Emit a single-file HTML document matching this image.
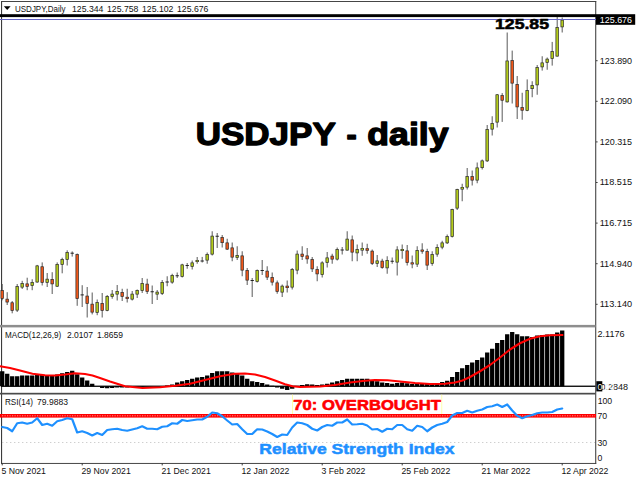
<!DOCTYPE html>
<html><head><meta charset="utf-8"><title>USDJPY - daily</title>
<style>
html,body{margin:0;padding:0;background:#fff;}
body{width:640px;height:480px;overflow:hidden;font-family:"Liberation Sans",sans-serif;}
svg{display:block;font-family:"Liberation Sans",sans-serif;}
</style></head><body>
<svg width="640" height="480" viewBox="0 0 640 480">
<rect x="0" y="0" width="640" height="480" fill="#fff"/>
<rect x="1" y="1" width="595.2" height="0.95" fill="#3c3c3c"/>
<rect x="1" y="1" width="1.1" height="462.9" fill="#3c3c3c"/>
<rect x="595.2" y="1" width="1.05" height="462.9" fill="#3c3c3c"/>
<rect x="1" y="462.95" width="595.2" height="0.95" fill="#3c3c3c"/>
<rect x="0" y="324.9" width="595.5" height="2.5" fill="#8e8e8e"/>
<rect x="0" y="392.8" width="595.5" height="1.7" fill="#4a4a4a"/>
<rect x="596" y="60.20" width="1.6" height="1" fill="#3c3c3c"/>
<rect x="596" y="100.80" width="1.6" height="1" fill="#3c3c3c"/>
<rect x="596" y="141.40" width="1.6" height="1" fill="#3c3c3c"/>
<rect x="596" y="182.00" width="1.6" height="1" fill="#3c3c3c"/>
<rect x="596" y="222.60" width="1.6" height="1" fill="#3c3c3c"/>
<rect x="596" y="263.20" width="1.6" height="1" fill="#3c3c3c"/>
<rect x="596" y="303.80" width="1.6" height="1" fill="#3c3c3c"/>
<rect x="1.70" y="463" width="1" height="2.4" fill="#3c3c3c"/>
<rect x="81.70" y="463" width="1" height="2.4" fill="#3c3c3c"/>
<rect x="161.70" y="463" width="1" height="2.4" fill="#3c3c3c"/>
<rect x="241.70" y="463" width="1" height="2.4" fill="#3c3c3c"/>
<rect x="321.70" y="463" width="1" height="2.4" fill="#3c3c3c"/>
<rect x="401.70" y="463" width="1" height="2.4" fill="#3c3c3c"/>
<rect x="481.70" y="463" width="1" height="2.4" fill="#3c3c3c"/>
<rect x="561.70" y="463" width="1" height="2.4" fill="#3c3c3c"/>
<rect x="1.70" y="284.00" width="0.95" height="16.30" fill="#505050"/>
<rect x="0.90" y="290.55" width="2.60" height="7.90" fill="#f0581a" stroke="#2a2a2a" stroke-width="0.7"/>
<rect x="6.70" y="292.20" width="0.95" height="12.80" fill="#505050"/>
<rect x="5.90" y="299.15" width="2.60" height="2.90" fill="#f0581a" stroke="#2a2a2a" stroke-width="0.7"/>
<rect x="11.70" y="301.00" width="0.95" height="12.30" fill="#505050"/>
<rect x="10.90" y="302.75" width="2.60" height="7.70" fill="#f0581a" stroke="#2a2a2a" stroke-width="0.7"/>
<rect x="16.70" y="284.00" width="0.95" height="28.00" fill="#505050"/>
<rect x="15.90" y="286.65" width="2.60" height="23.50" fill="#b4cc1c" stroke="#2a2a2a" stroke-width="0.7"/>
<rect x="21.70" y="280.80" width="0.95" height="8.20" fill="#505050"/>
<rect x="20.90" y="283.55" width="2.60" height="3.60" fill="#b4cc1c" stroke="#2a2a2a" stroke-width="0.7"/>
<rect x="26.70" y="277.70" width="0.95" height="12.50" fill="#505050"/>
<rect x="25.90" y="283.85" width="2.60" height="2.55" fill="#f0581a" stroke="#2a2a2a" stroke-width="0.7"/>
<rect x="31.70" y="279.25" width="0.95" height="10.95" fill="#505050"/>
<rect x="30.90" y="282.35" width="2.60" height="3.30" fill="#b4cc1c" stroke="#2a2a2a" stroke-width="0.7"/>
<rect x="36.70" y="264.90" width="0.95" height="17.80" fill="#505050"/>
<rect x="35.90" y="265.85" width="2.60" height="16.20" fill="#b4cc1c" stroke="#2a2a2a" stroke-width="0.7"/>
<rect x="41.70" y="262.40" width="0.95" height="23.10" fill="#505050"/>
<rect x="40.90" y="266.75" width="2.60" height="15.60" fill="#f0581a" stroke="#2a2a2a" stroke-width="0.7"/>
<rect x="46.70" y="273.00" width="0.95" height="14.00" fill="#505050"/>
<rect x="45.90" y="279.15" width="2.60" height="3.20" fill="#b4cc1c" stroke="#2a2a2a" stroke-width="0.7"/>
<rect x="51.70" y="272.20" width="0.95" height="21.80" fill="#505050"/>
<rect x="50.90" y="279.35" width="2.60" height="4.55" fill="#f0581a" stroke="#2a2a2a" stroke-width="0.7"/>
<rect x="56.70" y="262.40" width="0.95" height="24.60" fill="#505050"/>
<rect x="55.90" y="264.35" width="2.60" height="21.90" fill="#b4cc1c" stroke="#2a2a2a" stroke-width="0.7"/>
<rect x="61.70" y="257.70" width="0.95" height="15.60" fill="#505050"/>
<rect x="60.90" y="259.35" width="2.60" height="5.00" fill="#b4cc1c" stroke="#2a2a2a" stroke-width="0.7"/>
<rect x="66.70" y="250.30" width="0.95" height="15.20" fill="#505050"/>
<rect x="65.90" y="252.55" width="2.60" height="6.80" fill="#b4cc1c" stroke="#2a2a2a" stroke-width="0.7"/>
<rect x="71.70" y="251.40" width="0.95" height="5.20" fill="#505050"/>
<rect x="70.55" y="252.70" width="3.3" height="1" fill="#222"/>
<rect x="76.70" y="253.50" width="0.95" height="52.30" fill="#505050"/>
<rect x="75.90" y="254.60" width="2.60" height="44.05" fill="#f0581a" stroke="#2a2a2a" stroke-width="0.7"/>
<rect x="81.70" y="285.20" width="0.95" height="21.80" fill="#505050"/>
<rect x="80.55" y="294.40" width="3.3" height="1" fill="#222"/>
<rect x="86.70" y="287.00" width="0.95" height="30.50" fill="#505050"/>
<rect x="85.90" y="296.05" width="2.60" height="7.40" fill="#f0581a" stroke="#2a2a2a" stroke-width="0.7"/>
<rect x="91.70" y="292.50" width="0.95" height="21.90" fill="#505050"/>
<rect x="90.90" y="304.15" width="2.60" height="8.00" fill="#f0581a" stroke="#2a2a2a" stroke-width="0.7"/>
<rect x="96.70" y="299.50" width="0.95" height="15.70" fill="#505050"/>
<rect x="95.90" y="302.55" width="2.60" height="9.90" fill="#b4cc1c" stroke="#2a2a2a" stroke-width="0.7"/>
<rect x="101.70" y="293.00" width="0.95" height="24.50" fill="#505050"/>
<rect x="100.90" y="303.35" width="2.60" height="7.05" fill="#f0581a" stroke="#2a2a2a" stroke-width="0.7"/>
<rect x="106.70" y="295.00" width="0.95" height="16.25" fill="#505050"/>
<rect x="105.90" y="296.35" width="2.60" height="14.05" fill="#b4cc1c" stroke="#2a2a2a" stroke-width="0.7"/>
<rect x="111.70" y="290.00" width="0.95" height="8.75" fill="#505050"/>
<rect x="110.90" y="294.10" width="2.60" height="2.30" fill="#b4cc1c" stroke="#2a2a2a" stroke-width="0.7"/>
<rect x="116.70" y="285.00" width="0.95" height="15.50" fill="#505050"/>
<rect x="115.90" y="291.35" width="2.60" height="2.80" fill="#b4cc1c" stroke="#2a2a2a" stroke-width="0.7"/>
<rect x="121.70" y="288.75" width="0.95" height="12.25" fill="#505050"/>
<rect x="120.90" y="292.35" width="2.60" height="4.05" fill="#f0581a" stroke="#2a2a2a" stroke-width="0.7"/>
<rect x="126.70" y="288.75" width="0.95" height="13.75" fill="#505050"/>
<rect x="125.55" y="296.88" width="3.3" height="2.00" fill="#2a2a2a"/>
<rect x="126.35" y="297.38" width="1.70" height="1.00" fill="#f0581a"/>
<rect x="131.70" y="291.00" width="0.95" height="9.50" fill="#505050"/>
<rect x="130.90" y="294.10" width="2.60" height="5.05" fill="#b4cc1c" stroke="#2a2a2a" stroke-width="0.7"/>
<rect x="136.70" y="289.50" width="0.95" height="8.50" fill="#505050"/>
<rect x="135.90" y="290.35" width="2.60" height="3.80" fill="#b4cc1c" stroke="#2a2a2a" stroke-width="0.7"/>
<rect x="141.70" y="278.00" width="0.95" height="15.00" fill="#505050"/>
<rect x="140.90" y="283.35" width="2.60" height="7.30" fill="#b4cc1c" stroke="#2a2a2a" stroke-width="0.7"/>
<rect x="146.70" y="278.75" width="0.95" height="15.25" fill="#505050"/>
<rect x="145.90" y="284.10" width="2.60" height="7.30" fill="#f0581a" stroke="#2a2a2a" stroke-width="0.7"/>
<rect x="151.70" y="285.50" width="0.95" height="18.50" fill="#505050"/>
<rect x="150.55" y="291.25" width="3.3" height="1" fill="#222"/>
<rect x="156.70" y="290.00" width="0.95" height="10.00" fill="#505050"/>
<rect x="155.90" y="292.10" width="2.60" height="2.05" fill="#b4cc1c" stroke="#2a2a2a" stroke-width="0.7"/>
<rect x="161.70" y="280.00" width="0.95" height="15.00" fill="#505050"/>
<rect x="160.90" y="282.35" width="2.60" height="11.05" fill="#b4cc1c" stroke="#2a2a2a" stroke-width="0.7"/>
<rect x="166.70" y="276.25" width="0.95" height="10.00" fill="#505050"/>
<rect x="165.55" y="281.50" width="3.3" height="1" fill="#222"/>
<rect x="171.70" y="273.75" width="0.95" height="10.00" fill="#505050"/>
<rect x="170.90" y="275.35" width="2.60" height="6.80" fill="#b4cc1c" stroke="#2a2a2a" stroke-width="0.7"/>
<rect x="176.70" y="272.50" width="0.95" height="5.50" fill="#505050"/>
<rect x="175.55" y="275.25" width="3.3" height="1" fill="#222"/>
<rect x="181.70" y="263.75" width="0.95" height="13.75" fill="#505050"/>
<rect x="180.90" y="264.85" width="2.60" height="11.55" fill="#b4cc1c" stroke="#2a2a2a" stroke-width="0.7"/>
<rect x="186.70" y="263.00" width="0.95" height="5.75" fill="#505050"/>
<rect x="185.55" y="265.00" width="3.3" height="1" fill="#222"/>
<rect x="191.70" y="260.50" width="0.95" height="9.00" fill="#505050"/>
<rect x="190.90" y="262.85" width="2.60" height="3.55" fill="#b4cc1c" stroke="#2a2a2a" stroke-width="0.7"/>
<rect x="196.70" y="257.00" width="0.95" height="6.75" fill="#505050"/>
<rect x="195.55" y="260.00" width="3.3" height="2.00" fill="#2a2a2a"/>
<rect x="196.35" y="260.50" width="1.70" height="1.00" fill="#b4cc1c"/>
<rect x="201.70" y="256.90" width="0.95" height="5.60" fill="#505050"/>
<rect x="200.55" y="260.50" width="3.3" height="1" fill="#222"/>
<rect x="206.70" y="252.50" width="0.95" height="11.25" fill="#505050"/>
<rect x="205.90" y="254.60" width="2.60" height="5.55" fill="#b4cc1c" stroke="#2a2a2a" stroke-width="0.7"/>
<rect x="211.70" y="231.25" width="0.95" height="24.25" fill="#505050"/>
<rect x="210.90" y="236.10" width="2.60" height="18.05" fill="#b4cc1c" stroke="#2a2a2a" stroke-width="0.7"/>
<rect x="216.70" y="233.00" width="0.95" height="15.00" fill="#505050"/>
<rect x="215.55" y="235.75" width="3.3" height="1" fill="#222"/>
<rect x="221.70" y="235.00" width="0.95" height="12.50" fill="#505050"/>
<rect x="220.90" y="237.35" width="2.60" height="5.30" fill="#f0581a" stroke="#2a2a2a" stroke-width="0.7"/>
<rect x="226.70" y="238.75" width="0.95" height="11.25" fill="#505050"/>
<rect x="225.90" y="242.85" width="2.60" height="6.30" fill="#f0581a" stroke="#2a2a2a" stroke-width="0.7"/>
<rect x="231.70" y="242.50" width="0.95" height="18.75" fill="#505050"/>
<rect x="230.90" y="247.85" width="2.60" height="9.30" fill="#f0581a" stroke="#2a2a2a" stroke-width="0.7"/>
<rect x="236.70" y="246.25" width="0.95" height="13.75" fill="#505050"/>
<rect x="235.90" y="255.35" width="2.60" height="2.30" fill="#b4cc1c" stroke="#2a2a2a" stroke-width="0.7"/>
<rect x="241.70" y="251.25" width="0.95" height="25.00" fill="#505050"/>
<rect x="240.90" y="255.85" width="2.60" height="14.30" fill="#f0581a" stroke="#2a2a2a" stroke-width="0.7"/>
<rect x="246.70" y="268.00" width="0.95" height="17.00" fill="#505050"/>
<rect x="245.90" y="270.35" width="2.60" height="9.80" fill="#f0581a" stroke="#2a2a2a" stroke-width="0.7"/>
<rect x="251.70" y="278.00" width="0.95" height="19.00" fill="#505050"/>
<rect x="250.55" y="280.00" width="3.3" height="1" fill="#222"/>
<rect x="256.70" y="269.50" width="0.95" height="13.00" fill="#505050"/>
<rect x="255.90" y="270.35" width="2.60" height="11.05" fill="#b4cc1c" stroke="#2a2a2a" stroke-width="0.7"/>
<rect x="261.70" y="260.00" width="0.95" height="15.00" fill="#505050"/>
<rect x="260.55" y="270.00" width="3.3" height="1" fill="#222"/>
<rect x="266.70" y="266.25" width="0.95" height="13.75" fill="#505050"/>
<rect x="265.90" y="271.10" width="2.60" height="6.05" fill="#f0581a" stroke="#2a2a2a" stroke-width="0.7"/>
<rect x="271.70" y="272.50" width="0.95" height="13.00" fill="#505050"/>
<rect x="270.90" y="277.35" width="2.60" height="4.80" fill="#f0581a" stroke="#2a2a2a" stroke-width="0.7"/>
<rect x="276.70" y="280.50" width="0.95" height="13.25" fill="#505050"/>
<rect x="275.90" y="282.85" width="2.60" height="8.55" fill="#f0581a" stroke="#2a2a2a" stroke-width="0.7"/>
<rect x="281.70" y="284.50" width="0.95" height="12.50" fill="#505050"/>
<rect x="280.90" y="286.10" width="2.60" height="6.05" fill="#b4cc1c" stroke="#2a2a2a" stroke-width="0.7"/>
<rect x="286.70" y="280.50" width="0.95" height="12.00" fill="#505050"/>
<rect x="285.55" y="285.75" width="3.3" height="2.25" fill="#2a2a2a"/>
<rect x="286.35" y="286.25" width="1.70" height="1.25" fill="#f0581a"/>
<rect x="291.70" y="268.00" width="0.95" height="21.50" fill="#505050"/>
<rect x="290.90" y="269.60" width="2.60" height="17.55" fill="#b4cc1c" stroke="#2a2a2a" stroke-width="0.7"/>
<rect x="296.70" y="250.50" width="0.95" height="23.75" fill="#505050"/>
<rect x="295.90" y="254.10" width="2.60" height="16.05" fill="#b4cc1c" stroke="#2a2a2a" stroke-width="0.7"/>
<rect x="301.70" y="246.25" width="0.95" height="13.75" fill="#505050"/>
<rect x="300.90" y="254.10" width="2.60" height="2.30" fill="#f0581a" stroke="#2a2a2a" stroke-width="0.7"/>
<rect x="306.70" y="248.00" width="0.95" height="15.75" fill="#505050"/>
<rect x="305.90" y="255.85" width="2.60" height="3.05" fill="#f0581a" stroke="#2a2a2a" stroke-width="0.7"/>
<rect x="311.70" y="257.00" width="0.95" height="15.00" fill="#505050"/>
<rect x="310.90" y="259.60" width="2.60" height="9.30" fill="#f0581a" stroke="#2a2a2a" stroke-width="0.7"/>
<rect x="316.70" y="266.25" width="0.95" height="15.00" fill="#505050"/>
<rect x="315.90" y="269.60" width="2.60" height="4.30" fill="#f0581a" stroke="#2a2a2a" stroke-width="0.7"/>
<rect x="321.70" y="261.25" width="0.95" height="16.25" fill="#505050"/>
<rect x="320.90" y="262.85" width="2.60" height="11.80" fill="#b4cc1c" stroke="#2a2a2a" stroke-width="0.7"/>
<rect x="326.70" y="252.00" width="0.95" height="15.50" fill="#505050"/>
<rect x="325.90" y="257.85" width="2.60" height="4.80" fill="#b4cc1c" stroke="#2a2a2a" stroke-width="0.7"/>
<rect x="331.70" y="253.75" width="0.95" height="10.00" fill="#505050"/>
<rect x="330.90" y="256.10" width="2.60" height="3.05" fill="#f0581a" stroke="#2a2a2a" stroke-width="0.7"/>
<rect x="336.70" y="247.50" width="0.95" height="13.00" fill="#505050"/>
<rect x="335.90" y="249.60" width="2.60" height="9.55" fill="#b4cc1c" stroke="#2a2a2a" stroke-width="0.7"/>
<rect x="341.70" y="247.00" width="0.95" height="7.50" fill="#505050"/>
<rect x="340.55" y="249.50" width="3.3" height="1" fill="#222"/>
<rect x="346.70" y="231.25" width="0.95" height="19.25" fill="#505050"/>
<rect x="345.90" y="239.10" width="2.60" height="11.05" fill="#b4cc1c" stroke="#2a2a2a" stroke-width="0.7"/>
<rect x="351.70" y="235.50" width="0.95" height="25.75" fill="#505050"/>
<rect x="350.90" y="239.85" width="2.60" height="12.30" fill="#f0581a" stroke="#2a2a2a" stroke-width="0.7"/>
<rect x="356.70" y="244.50" width="0.95" height="16.75" fill="#505050"/>
<rect x="355.90" y="249.60" width="2.60" height="3.30" fill="#b4cc1c" stroke="#2a2a2a" stroke-width="0.7"/>
<rect x="361.70" y="242.50" width="0.95" height="13.25" fill="#505050"/>
<rect x="360.55" y="248.00" width="3.3" height="2.50" fill="#2a2a2a"/>
<rect x="361.35" y="248.50" width="1.70" height="1.50" fill="#b4cc1c"/>
<rect x="366.70" y="243.75" width="0.95" height="10.00" fill="#505050"/>
<rect x="365.55" y="248.25" width="3.3" height="2.50" fill="#2a2a2a"/>
<rect x="366.35" y="248.75" width="1.70" height="1.50" fill="#f0581a"/>
<rect x="371.70" y="249.50" width="0.95" height="15.50" fill="#505050"/>
<rect x="370.90" y="251.10" width="2.60" height="12.30" fill="#f0581a" stroke="#2a2a2a" stroke-width="0.7"/>
<rect x="376.70" y="255.00" width="0.95" height="12.00" fill="#505050"/>
<rect x="375.90" y="260.85" width="2.60" height="2.55" fill="#b4cc1c" stroke="#2a2a2a" stroke-width="0.7"/>
<rect x="381.70" y="258.75" width="0.95" height="10.00" fill="#505050"/>
<rect x="380.90" y="261.10" width="2.60" height="6.55" fill="#f0581a" stroke="#2a2a2a" stroke-width="0.7"/>
<rect x="386.70" y="256.25" width="0.95" height="17.50" fill="#505050"/>
<rect x="385.90" y="260.35" width="2.60" height="7.55" fill="#b4cc1c" stroke="#2a2a2a" stroke-width="0.7"/>
<rect x="391.70" y="257.50" width="0.95" height="6.25" fill="#505050"/>
<rect x="390.55" y="260.75" width="3.3" height="1" fill="#222"/>
<rect x="396.70" y="246.25" width="0.95" height="29.25" fill="#505050"/>
<rect x="395.90" y="249.85" width="2.60" height="12.30" fill="#b4cc1c" stroke="#2a2a2a" stroke-width="0.7"/>
<rect x="401.70" y="244.50" width="0.95" height="14.25" fill="#505050"/>
<rect x="400.55" y="249.00" width="3.3" height="2.00" fill="#2a2a2a"/>
<rect x="401.35" y="249.50" width="1.70" height="1.00" fill="#b4cc1c"/>
<rect x="406.70" y="245.00" width="0.95" height="20.50" fill="#505050"/>
<rect x="405.90" y="250.85" width="2.60" height="11.80" fill="#f0581a" stroke="#2a2a2a" stroke-width="0.7"/>
<rect x="411.70" y="255.50" width="0.95" height="12.75" fill="#505050"/>
<rect x="410.55" y="262.38" width="3.3" height="2.00" fill="#2a2a2a"/>
<rect x="411.35" y="262.88" width="1.70" height="1.00" fill="#f0581a"/>
<rect x="416.70" y="246.25" width="0.95" height="20.75" fill="#505050"/>
<rect x="415.90" y="250.35" width="2.60" height="13.80" fill="#b4cc1c" stroke="#2a2a2a" stroke-width="0.7"/>
<rect x="421.70" y="243.25" width="0.95" height="10.50" fill="#505050"/>
<rect x="420.55" y="249.62" width="3.3" height="2.00" fill="#2a2a2a"/>
<rect x="421.35" y="250.12" width="1.70" height="1.00" fill="#f0581a"/>
<rect x="426.70" y="248.75" width="0.95" height="21.25" fill="#505050"/>
<rect x="425.90" y="251.60" width="2.60" height="13.55" fill="#f0581a" stroke="#2a2a2a" stroke-width="0.7"/>
<rect x="431.70" y="251.25" width="0.95" height="14.50" fill="#505050"/>
<rect x="430.90" y="254.60" width="2.60" height="8.80" fill="#b4cc1c" stroke="#2a2a2a" stroke-width="0.7"/>
<rect x="436.70" y="244.25" width="0.95" height="12.50" fill="#505050"/>
<rect x="435.90" y="247.35" width="2.60" height="6.80" fill="#b4cc1c" stroke="#2a2a2a" stroke-width="0.7"/>
<rect x="441.70" y="240.75" width="0.95" height="8.50" fill="#505050"/>
<rect x="440.90" y="242.85" width="2.60" height="4.30" fill="#b4cc1c" stroke="#2a2a2a" stroke-width="0.7"/>
<rect x="446.70" y="234.50" width="0.95" height="9.50" fill="#505050"/>
<rect x="445.90" y="236.60" width="2.60" height="6.30" fill="#b4cc1c" stroke="#2a2a2a" stroke-width="0.7"/>
<rect x="451.70" y="208.75" width="0.95" height="28.75" fill="#505050"/>
<rect x="450.90" y="209.60" width="2.60" height="26.80" fill="#b4cc1c" stroke="#2a2a2a" stroke-width="0.7"/>
<rect x="456.70" y="188.75" width="0.95" height="21.25" fill="#505050"/>
<rect x="455.90" y="189.60" width="2.60" height="18.55" fill="#b4cc1c" stroke="#2a2a2a" stroke-width="0.7"/>
<rect x="461.70" y="183.75" width="0.95" height="17.50" fill="#505050"/>
<rect x="460.55" y="187.00" width="3.3" height="2.50" fill="#2a2a2a"/>
<rect x="461.35" y="187.50" width="1.70" height="1.50" fill="#b4cc1c"/>
<rect x="466.70" y="168.00" width="0.95" height="21.50" fill="#505050"/>
<rect x="465.90" y="176.60" width="2.60" height="10.55" fill="#b4cc1c" stroke="#2a2a2a" stroke-width="0.7"/>
<rect x="471.70" y="170.50" width="0.95" height="15.00" fill="#505050"/>
<rect x="470.90" y="176.60" width="2.60" height="3.55" fill="#f0581a" stroke="#2a2a2a" stroke-width="0.7"/>
<rect x="476.70" y="162.50" width="0.95" height="20.75" fill="#505050"/>
<rect x="475.90" y="167.85" width="2.60" height="12.30" fill="#b4cc1c" stroke="#2a2a2a" stroke-width="0.7"/>
<rect x="481.70" y="159.50" width="0.95" height="10.00" fill="#505050"/>
<rect x="480.90" y="160.85" width="2.60" height="6.80" fill="#b4cc1c" stroke="#2a2a2a" stroke-width="0.7"/>
<rect x="486.70" y="125.00" width="0.95" height="37.00" fill="#505050"/>
<rect x="485.90" y="129.60" width="2.60" height="31.30" fill="#b4cc1c" stroke="#2a2a2a" stroke-width="0.7"/>
<rect x="491.70" y="116.25" width="0.95" height="19.25" fill="#505050"/>
<rect x="490.90" y="123.35" width="2.60" height="5.80" fill="#b4cc1c" stroke="#2a2a2a" stroke-width="0.7"/>
<rect x="496.70" y="94.00" width="0.95" height="33.50" fill="#505050"/>
<rect x="495.90" y="94.75" width="2.60" height="27.40" fill="#b4cc1c" stroke="#2a2a2a" stroke-width="0.7"/>
<rect x="501.70" y="93.10" width="0.95" height="28.80" fill="#505050"/>
<rect x="500.90" y="95.60" width="2.60" height="4.65" fill="#f0581a" stroke="#2a2a2a" stroke-width="0.7"/>
<rect x="506.70" y="32.50" width="0.95" height="70.00" fill="#505050"/>
<rect x="505.90" y="60.95" width="2.60" height="40.95" fill="#b4cc1c" stroke="#2a2a2a" stroke-width="0.7"/>
<rect x="511.70" y="50.60" width="0.95" height="52.90" fill="#505050"/>
<rect x="510.90" y="60.60" width="2.60" height="22.55" fill="#f0581a" stroke="#2a2a2a" stroke-width="0.7"/>
<rect x="516.70" y="76.00" width="0.95" height="43.00" fill="#505050"/>
<rect x="515.90" y="84.35" width="2.60" height="22.55" fill="#f0581a" stroke="#2a2a2a" stroke-width="0.7"/>
<rect x="521.70" y="92.75" width="0.95" height="27.00" fill="#505050"/>
<rect x="520.90" y="107.60" width="2.60" height="2.65" fill="#f0581a" stroke="#2a2a2a" stroke-width="0.7"/>
<rect x="526.70" y="79.40" width="0.95" height="31.80" fill="#505050"/>
<rect x="525.90" y="90.60" width="2.60" height="19.95" fill="#b4cc1c" stroke="#2a2a2a" stroke-width="0.7"/>
<rect x="531.70" y="81.25" width="0.95" height="16.00" fill="#505050"/>
<rect x="530.90" y="85.60" width="2.60" height="3.05" fill="#b4cc1c" stroke="#2a2a2a" stroke-width="0.7"/>
<rect x="536.70" y="65.00" width="0.95" height="29.75" fill="#505050"/>
<rect x="535.90" y="67.60" width="2.60" height="17.30" fill="#b4cc1c" stroke="#2a2a2a" stroke-width="0.7"/>
<rect x="541.70" y="56.25" width="0.95" height="14.35" fill="#505050"/>
<rect x="540.90" y="62.85" width="2.60" height="4.05" fill="#b4cc1c" stroke="#2a2a2a" stroke-width="0.7"/>
<rect x="546.70" y="57.50" width="0.95" height="12.25" fill="#505050"/>
<rect x="545.90" y="59.10" width="2.60" height="3.30" fill="#b4cc1c" stroke="#2a2a2a" stroke-width="0.7"/>
<rect x="551.70" y="41.90" width="0.95" height="23.70" fill="#505050"/>
<rect x="550.90" y="51.60" width="2.60" height="7.05" fill="#b4cc1c" stroke="#2a2a2a" stroke-width="0.7"/>
<rect x="556.70" y="16.90" width="0.95" height="39.60" fill="#505050"/>
<rect x="555.90" y="27.45" width="2.60" height="28.70" fill="#b4cc1c" stroke="#2a2a2a" stroke-width="0.7"/>
<rect x="561.70" y="17.50" width="0.95" height="15.00" fill="#505050"/>
<rect x="560.90" y="20.10" width="2.60" height="6.80" fill="#b4cc1c" stroke="#2a2a2a" stroke-width="0.7"/>
<rect x="0" y="14.2" width="596" height="2.9" fill="#000"/>
<rect x="0" y="19" width="596" height="1" fill="#6464c8"/>
<rect x="596" y="14.2" width="39.2" height="10.6" fill="#000"/>
<rect x="0.05" y="371.25" width="4.3" height="15.00" fill="#000"/>
<rect x="5.05" y="373.75" width="4.3" height="12.50" fill="#000"/>
<rect x="10.05" y="376.25" width="4.3" height="10.00" fill="#000"/>
<rect x="15.05" y="376.25" width="4.3" height="10.00" fill="#000"/>
<rect x="20.05" y="375.50" width="4.3" height="10.75" fill="#000"/>
<rect x="25.05" y="375.50" width="4.3" height="10.75" fill="#000"/>
<rect x="30.05" y="375.50" width="4.3" height="10.75" fill="#000"/>
<rect x="35.05" y="375.00" width="4.3" height="11.25" fill="#000"/>
<rect x="40.05" y="375.00" width="4.3" height="11.25" fill="#000"/>
<rect x="45.05" y="375.50" width="4.3" height="10.75" fill="#000"/>
<rect x="50.05" y="375.50" width="4.3" height="10.75" fill="#000"/>
<rect x="55.05" y="374.50" width="4.3" height="11.75" fill="#000"/>
<rect x="60.05" y="373.25" width="4.3" height="13.00" fill="#000"/>
<rect x="65.05" y="372.00" width="4.3" height="14.25" fill="#000"/>
<rect x="70.05" y="370.75" width="4.3" height="15.50" fill="#000"/>
<rect x="75.05" y="374.25" width="4.3" height="12.00" fill="#000"/>
<rect x="80.05" y="377.50" width="4.3" height="8.75" fill="#000"/>
<rect x="85.05" y="380.50" width="4.3" height="5.75" fill="#000"/>
<rect x="90.05" y="383.75" width="4.3" height="2.50" fill="#000"/>
<rect x="100.05" y="386.25" width="4.3" height="1.75" fill="#000"/>
<rect x="105.05" y="386.25" width="4.3" height="2.00" fill="#000"/>
<rect x="110.05" y="386.25" width="4.3" height="1.75" fill="#000"/>
<rect x="115.05" y="386.25" width="4.3" height="1.25" fill="#000"/>
<rect x="120.05" y="386.25" width="4.3" height="1.25" fill="#000"/>
<rect x="125.05" y="386.25" width="4.3" height="1.25" fill="#000"/>
<rect x="130.05" y="386.25" width="4.3" height="0.75" fill="#000"/>
<rect x="135.05" y="386.25" width="4.3" height="0.55" fill="#000"/>
<rect x="140.05" y="386.25" width="4.3" height="0.35" fill="#000"/>
<rect x="165.05" y="385.50" width="4.3" height="0.75" fill="#000"/>
<rect x="170.05" y="384.50" width="4.3" height="1.75" fill="#000"/>
<rect x="175.05" y="382.50" width="4.3" height="3.75" fill="#000"/>
<rect x="180.05" y="381.25" width="4.3" height="5.00" fill="#000"/>
<rect x="185.05" y="380.00" width="4.3" height="6.25" fill="#000"/>
<rect x="190.05" y="378.75" width="4.3" height="7.50" fill="#000"/>
<rect x="195.05" y="377.50" width="4.3" height="8.75" fill="#000"/>
<rect x="200.05" y="377.00" width="4.3" height="9.25" fill="#000"/>
<rect x="205.05" y="375.50" width="4.3" height="10.75" fill="#000"/>
<rect x="210.05" y="373.00" width="4.3" height="13.25" fill="#000"/>
<rect x="215.05" y="371.25" width="4.3" height="15.00" fill="#000"/>
<rect x="220.05" y="371.25" width="4.3" height="15.00" fill="#000"/>
<rect x="225.05" y="371.25" width="4.3" height="15.00" fill="#000"/>
<rect x="230.05" y="372.50" width="4.3" height="13.75" fill="#000"/>
<rect x="235.05" y="373.75" width="4.3" height="12.50" fill="#000"/>
<rect x="240.05" y="375.50" width="4.3" height="10.75" fill="#000"/>
<rect x="245.05" y="378.75" width="4.3" height="7.50" fill="#000"/>
<rect x="250.05" y="381.25" width="4.3" height="5.00" fill="#000"/>
<rect x="255.05" y="382.00" width="4.3" height="4.25" fill="#000"/>
<rect x="260.05" y="383.00" width="4.3" height="3.25" fill="#000"/>
<rect x="265.05" y="384.50" width="4.3" height="1.75" fill="#000"/>
<rect x="270.05" y="385.75" width="4.3" height="0.50" fill="#000"/>
<rect x="275.05" y="386.25" width="4.3" height="1.25" fill="#000"/>
<rect x="280.05" y="386.25" width="4.3" height="2.50" fill="#000"/>
<rect x="285.05" y="386.25" width="4.3" height="3.75" fill="#000"/>
<rect x="290.05" y="386.25" width="4.3" height="2.50" fill="#000"/>
<rect x="300.05" y="385.00" width="4.3" height="1.25" fill="#000"/>
<rect x="305.05" y="384.25" width="4.3" height="2.00" fill="#000"/>
<rect x="310.05" y="384.50" width="4.3" height="1.75" fill="#000"/>
<rect x="315.05" y="385.00" width="4.3" height="1.25" fill="#000"/>
<rect x="320.05" y="384.50" width="4.3" height="1.75" fill="#000"/>
<rect x="325.05" y="383.75" width="4.3" height="2.50" fill="#000"/>
<rect x="330.05" y="382.50" width="4.3" height="3.75" fill="#000"/>
<rect x="335.05" y="381.25" width="4.3" height="5.00" fill="#000"/>
<rect x="340.05" y="380.00" width="4.3" height="6.25" fill="#000"/>
<rect x="345.05" y="378.75" width="4.3" height="7.50" fill="#000"/>
<rect x="350.05" y="378.75" width="4.3" height="7.50" fill="#000"/>
<rect x="355.05" y="378.75" width="4.3" height="7.50" fill="#000"/>
<rect x="360.05" y="378.75" width="4.3" height="7.50" fill="#000"/>
<rect x="365.05" y="378.75" width="4.3" height="7.50" fill="#000"/>
<rect x="370.05" y="380.00" width="4.3" height="6.25" fill="#000"/>
<rect x="375.05" y="381.25" width="4.3" height="5.00" fill="#000"/>
<rect x="380.05" y="382.50" width="4.3" height="3.75" fill="#000"/>
<rect x="385.05" y="383.00" width="4.3" height="3.25" fill="#000"/>
<rect x="390.05" y="383.75" width="4.3" height="2.50" fill="#000"/>
<rect x="395.05" y="383.00" width="4.3" height="3.25" fill="#000"/>
<rect x="400.05" y="382.50" width="4.3" height="3.75" fill="#000"/>
<rect x="405.05" y="383.25" width="4.3" height="3.00" fill="#000"/>
<rect x="410.05" y="384.00" width="4.3" height="2.25" fill="#000"/>
<rect x="415.05" y="383.75" width="4.3" height="2.50" fill="#000"/>
<rect x="420.05" y="383.25" width="4.3" height="3.00" fill="#000"/>
<rect x="425.05" y="383.75" width="4.3" height="2.50" fill="#000"/>
<rect x="430.05" y="383.75" width="4.3" height="2.50" fill="#000"/>
<rect x="435.05" y="383.25" width="4.3" height="3.00" fill="#000"/>
<rect x="440.05" y="382.00" width="4.3" height="4.25" fill="#000"/>
<rect x="445.05" y="380.75" width="4.3" height="5.50" fill="#000"/>
<rect x="450.05" y="377.00" width="4.3" height="9.25" fill="#000"/>
<rect x="455.05" y="372.00" width="4.3" height="14.25" fill="#000"/>
<rect x="460.05" y="368.25" width="4.3" height="18.00" fill="#000"/>
<rect x="465.05" y="365.00" width="4.3" height="21.25" fill="#000"/>
<rect x="470.05" y="362.50" width="4.3" height="23.75" fill="#000"/>
<rect x="475.05" y="360.00" width="4.3" height="26.25" fill="#000"/>
<rect x="480.05" y="357.50" width="4.3" height="28.75" fill="#000"/>
<rect x="485.05" y="352.50" width="4.3" height="33.75" fill="#000"/>
<rect x="490.05" y="348.75" width="4.3" height="37.50" fill="#000"/>
<rect x="495.05" y="343.00" width="4.3" height="43.25" fill="#000"/>
<rect x="500.05" y="340.00" width="4.3" height="46.25" fill="#000"/>
<rect x="505.05" y="334.25" width="4.3" height="52.00" fill="#000"/>
<rect x="510.05" y="332.00" width="4.3" height="54.25" fill="#000"/>
<rect x="515.05" y="334.25" width="4.3" height="52.00" fill="#000"/>
<rect x="520.05" y="336.25" width="4.3" height="50.00" fill="#000"/>
<rect x="525.05" y="336.25" width="4.3" height="50.00" fill="#000"/>
<rect x="530.05" y="337.00" width="4.3" height="49.25" fill="#000"/>
<rect x="535.05" y="335.50" width="4.3" height="50.75" fill="#000"/>
<rect x="540.05" y="335.00" width="4.3" height="51.25" fill="#000"/>
<rect x="545.05" y="334.50" width="4.3" height="51.75" fill="#000"/>
<rect x="550.05" y="334.50" width="4.3" height="51.75" fill="#000"/>
<rect x="555.05" y="332.50" width="4.3" height="53.75" fill="#000"/>
<rect x="560.05" y="330.50" width="4.3" height="55.75" fill="#000"/>
<rect x="1" y="385.60" width="594.5" height="1.3" fill="#000"/>
<polyline points="0.00,366.25 10.00,368.00 20.00,370.50 32.50,373.75 45.00,375.20 55.00,375.50 65.00,374.50 75.00,373.25 85.00,374.00 92.50,375.50 100.00,378.00 110.00,381.50 125.00,386.25 142.50,388.00 160.00,387.20 175.00,385.75 190.00,383.75 205.00,380.00 220.00,376.25 235.00,373.75 245.00,373.50 255.00,374.50 265.00,377.00 275.00,380.50 285.00,384.25 292.50,386.25 300.00,387.00 320.00,386.50 335.00,385.00 350.00,382.50 365.00,380.75 375.00,380.00 387.50,380.25 400.00,381.50 415.00,383.00 430.00,384.00 445.00,383.75 455.00,382.50 462.50,380.50 470.00,377.00 480.00,371.25 490.00,365.00 500.00,357.50 510.00,349.50 520.00,343.25 530.00,338.75 540.00,336.25 550.00,335.25 562.50,335.00" fill="none" stroke="#ff0000" stroke-width="2.1" stroke-linejoin="round" stroke-linecap="round"/>
<text x="597.5" y="390.3" font-size="8.7" fill="#111" textLength="30.6" lengthAdjust="spacingAndGlyphs" >-0.2848</text>
<rect x="596.3" y="381.2" width="6" height="10.2" fill="#000"/>
<text x="597.6" y="390.3" font-size="8.7" fill="#f4f4f4"  >0.00</text>
<rect x="292.2" y="394.6" width="0.8" height="19.4" fill="#ffff9a"/>
<rect x="441.4" y="394.6" width="0.8" height="19.4" fill="#ffff9a"/>
<rect x="0" y="414" width="596" height="3.6" fill="#ff0000"/>
<line x1="2" y1="415.8" x2="595" y2="415.8" stroke="#ff9090" stroke-width="1" stroke-dasharray="1.2 1.3"/>
<line x1="2" y1="442.5" x2="595" y2="442.5" stroke="#cfcfcf" stroke-width="1" stroke-dasharray="1.4 2.6"/>
<polyline points="2.20,427.00 7.20,428.00 12.20,431.25 17.20,423.25 22.20,422.50 27.20,423.75 32.20,422.50 37.20,418.25 42.20,425.00 47.20,423.75 52.20,425.75 57.20,421.25 62.20,420.00 67.20,418.25 72.20,419.25 77.20,432.50 82.20,431.25 87.20,433.00 92.20,435.50 97.20,433.00 102.20,435.00 107.20,430.00 112.20,429.25 117.20,428.75 122.20,430.00 127.20,430.75 132.20,429.50 137.20,428.25 142.20,426.25 147.20,428.75 152.20,428.75 157.20,429.25 162.20,426.75 167.20,426.25 172.20,423.25 177.20,423.75 182.20,420.00 187.20,421.00 192.20,420.25 197.20,419.50 202.20,419.50 207.20,416.75 212.20,412.50 217.20,413.25 222.20,416.25 227.20,420.50 232.20,424.50 237.20,424.00 242.20,429.25 247.20,434.00 252.20,434.00 257.20,429.25 262.20,429.50 267.20,431.50 272.20,434.00 277.20,437.00 282.20,434.50 287.20,435.00 292.20,427.50 297.20,422.50 302.20,423.25 307.20,425.00 312.20,428.75 317.20,430.50 322.20,427.00 327.20,425.00 332.20,425.75 337.20,422.50 342.20,422.50 347.20,419.50 352.20,424.50 357.20,424.25 362.20,423.75 367.20,425.50 372.20,429.50 377.20,429.00 382.20,431.75 387.20,428.75 392.20,429.25 397.20,425.00 402.20,425.00 407.20,429.25 412.20,430.75 417.20,425.75 422.20,427.00 427.20,431.25 432.20,427.50 437.20,425.00 442.20,423.75 447.20,422.00 452.20,415.50 457.20,413.00 462.20,413.00 467.20,410.75 472.20,412.50 477.20,410.75 482.20,409.50 487.20,407.00 492.20,406.25 497.20,404.50 502.20,407.00 507.20,404.50 512.20,410.50 517.20,415.75 522.20,418.25 527.20,416.25 532.20,415.00 537.20,413.25 542.20,412.50 547.20,412.50 552.20,412.00 557.20,409.50 562.20,408.50" fill="none" stroke="#1e90ff" stroke-width="2.2" stroke-linejoin="round" stroke-linecap="round"/>
<path d="M3.8 6.3 L10.6 6.3 L7.2 10 Z" fill="#000"/>
<text x="15" y="11.6" font-size="8.7" fill="#111" textLength="50.5" lengthAdjust="spacingAndGlyphs" >USDJPY,Daily</text>
<text x="72" y="11.6" font-size="8.7" fill="#111" textLength="31.4" lengthAdjust="spacingAndGlyphs" >125.344</text>
<text x="107" y="11.6" font-size="8.7" fill="#111" textLength="31.4" lengthAdjust="spacingAndGlyphs" >125.758</text>
<text x="142" y="11.6" font-size="8.7" fill="#111" textLength="31.4" lengthAdjust="spacingAndGlyphs" >125.102</text>
<text x="177" y="11.6" font-size="8.7" fill="#111" textLength="31.4" lengthAdjust="spacingAndGlyphs" >125.676</text>
<text x="5" y="338.1" font-size="8.7" fill="#111" textLength="56.3" lengthAdjust="spacingAndGlyphs" >MACD(12,26,9)</text>
<text x="67" y="338.1" font-size="8.7" fill="#111" textLength="26" lengthAdjust="spacingAndGlyphs" >2.0107</text>
<text x="97" y="338.1" font-size="8.7" fill="#111" textLength="26" lengthAdjust="spacingAndGlyphs" >1.8659</text>
<text x="5" y="405.3" font-size="8.7" fill="#111" textLength="28" lengthAdjust="spacingAndGlyphs" >RSI(14)</text>
<text x="37" y="405.3" font-size="8.7" fill="#111" textLength="31" lengthAdjust="spacingAndGlyphs" >79.9883</text>
<text x="599.7" y="63.650000000000006" font-size="8.7" fill="#111" textLength="32.4" lengthAdjust="spacingAndGlyphs" >123.890</text>
<text x="599.7" y="104.25000000000001" font-size="8.7" fill="#111" textLength="32.4" lengthAdjust="spacingAndGlyphs" >122.090</text>
<text x="599.7" y="144.85" font-size="8.7" fill="#111" textLength="32.4" lengthAdjust="spacingAndGlyphs" >120.315</text>
<text x="599.7" y="185.45" font-size="8.7" fill="#111" textLength="32.4" lengthAdjust="spacingAndGlyphs" >118.515</text>
<text x="599.7" y="226.05" font-size="8.7" fill="#111" textLength="32.4" lengthAdjust="spacingAndGlyphs" >116.715</text>
<text x="599.7" y="266.65" font-size="8.7" fill="#111" textLength="32.4" lengthAdjust="spacingAndGlyphs" >114.940</text>
<text x="599.7" y="307.25" font-size="8.7" fill="#111" textLength="32.4" lengthAdjust="spacingAndGlyphs" >113.140</text>
<text x="599.7" y="22.8" font-size="8.7" fill="#fff" textLength="32.4" lengthAdjust="spacingAndGlyphs" >125.676</text>
<text x="597.5" y="336.9" font-size="8.7" fill="#111" textLength="27.2" lengthAdjust="spacingAndGlyphs" >2.1176</text>
<text x="597.7" y="404.4" font-size="8.7" fill="#111"  >100</text>
<text x="597.5" y="419.2" font-size="8.7" fill="#111"  >70</text>
<text x="597.4" y="446.3" font-size="8.7" fill="#111"  >30</text>
<text x="597.6" y="460.7" font-size="8.7" fill="#111"  >0</text>
<text x="1.5" y="474.4" font-size="8.7" fill="#111"  >5 Nov 2021</text>
<text x="81.5" y="474.4" font-size="8.7" fill="#111"  >29 Nov 2021</text>
<text x="161.5" y="474.4" font-size="8.7" fill="#111"  >21 Dec 2021</text>
<text x="241.5" y="474.4" font-size="8.7" fill="#111"  >12 Jan 2022</text>
<text x="321.5" y="474.4" font-size="8.7" fill="#111"  >3 Feb 2022</text>
<text x="401.5" y="474.4" font-size="8.7" fill="#111"  >25 Feb 2022</text>
<text x="481.5" y="474.4" font-size="8.7" fill="#111"  >21 Mar 2022</text>
<text x="561.5" y="474.4" font-size="8.7" fill="#111"  >12 Apr 2022</text>
<text transform="translate(195.7,144.7) scale(1.115,1)" font-size="31.4" font-weight="bold" fill="#000" stroke="#000" stroke-width="1.3" stroke-linejoin="round" letter-spacing="0">USDJPY</text>
<text transform="translate(346.5,144.7) scale(0.98,1)" font-size="31.4" font-weight="bold" fill="#000" stroke="#000" stroke-width="1.3" stroke-linejoin="round" letter-spacing="0">-</text>
<text transform="translate(367.3,144.7) scale(1.135,1)" font-size="31.4" font-weight="bold" fill="#000" stroke="#000" stroke-width="1.3" stroke-linejoin="round" letter-spacing="0">daily</text>
<text transform="translate(495.0,29.3) scale(1.245,1)" font-size="14.2" font-weight="bold" fill="#000" stroke="#000" stroke-width="0.55" stroke-linejoin="round" letter-spacing="0">125.85</text>
<text transform="translate(293.3,410.0) scale(1.137,1)" font-size="14.6" font-weight="bold" fill="#ff0000" stroke="#ff0000" stroke-width="0.6" stroke-linejoin="round" letter-spacing="0">70: OVERBOUGHT</text>
<text transform="translate(259.3,453.6) scale(1.172,1)" font-size="15.0" font-weight="bold" fill="#1e90ff" stroke="#1e90ff" stroke-width="0.5" stroke-linejoin="round" letter-spacing="0">Relative Strength Index</text>
</svg>
</body></html>
